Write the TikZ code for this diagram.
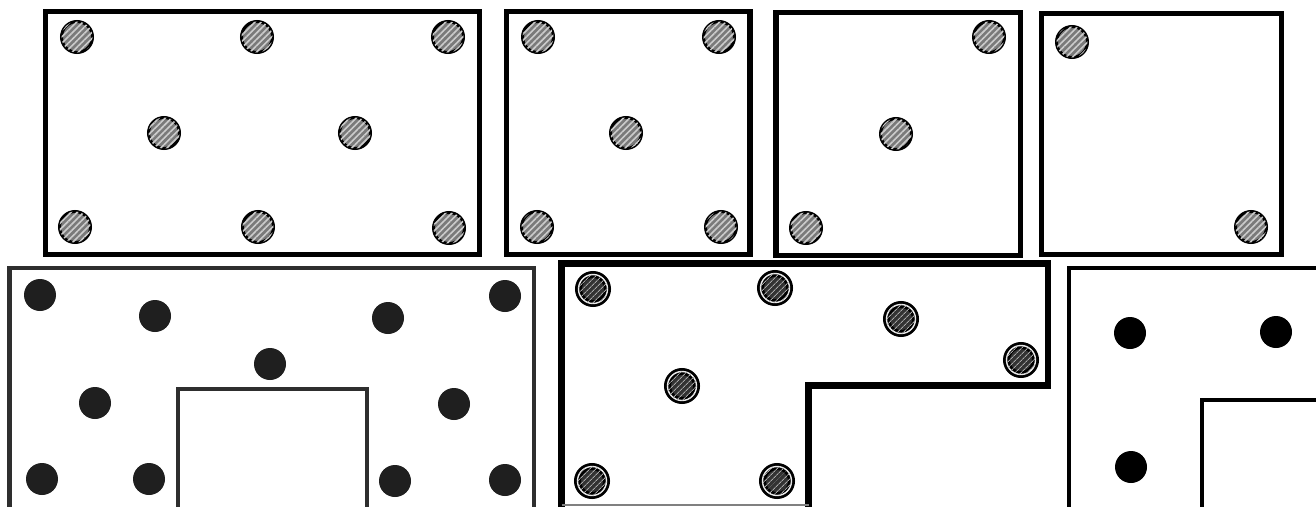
\documentclass[tikz,border=0pt]{standalone}
\usetikzlibrary{patterns.meta}
\tikzset{
  frame/.style={draw=black, line width=5.5pt},
  hdot/.style={circle, draw=black, line width=3pt, fill=black!52, minimum size=31pt, inner sep=0pt,
    postaction={pattern={Lines[angle=45,distance=4.5pt,line width=1.6pt]}, pattern color=gray!40}},
  rdot/.style={circle, draw=black, line width=2.8pt, double=white!85!gray, double distance=1.4pt,
    fill=black!80, minimum size=29pt, inner sep=0pt,
    postaction={pattern={Lines[angle=45,distance=4pt,line width=1pt]}, pattern color=gray!70}},
  ddot/.style={circle, fill=black!88, minimum size=32pt, inner sep=0pt},
  bdot/.style={circle, fill=black, minimum size=32pt, inner sep=0pt},
  wall/.style={draw=black!82, line width=4.2pt},
  lwall/.style={draw=black, line width=6.5pt, line join=miter},
  pwall/.style={draw=black, line width=4.5pt, line join=miter}
}
\begin{document}
\begin{tikzpicture}[x=1pt,y=-1pt]
\useasboundingbox (0,0) rectangle (1316,506);
\clip (0,0) rectangle (1316,506);
% top row frames
\draw[frame] (45.5,11.5) rectangle (479.5,254.5);
\draw[frame] (506.5,11.5) rectangle (750,254.5);
\draw[frame] (776,12.5) rectangle (1020.5,255.5);
\draw[frame] (1041.5,13.5) rectangle (1281.5,254.5);
% panel 1
\node[hdot] (a1) at (77,37) {};
\node[hdot] (a2) at (257,37) {};
\node[hdot] (a3) at (448,37) {};
\node[hdot] (a4) at (164,133) {};
\node[hdot] (a5) at (355,133) {};
\node[hdot] (a6) at (75,227) {};
\node[hdot] (a7) at (258,227) {};
\node[hdot] (a8) at (449,228) {};
% panel 2
\node[hdot] (b1) at (538,37) {};
\node[hdot] (b2) at (719,37) {};
\node[hdot] (b3) at (626,133) {};
\node[hdot] (b4) at (537,227) {};
\node[hdot] (b5) at (721,227) {};
% panel 3
\node[hdot] (c1) at (989,37) {};
\node[hdot] (c2) at (896,134) {};
\node[hdot] (c3) at (806,228) {};
% panel 4
\node[hdot] (d1) at (1072,42) {};
\node[hdot] (d2) at (1251,227) {};
% panel 5
\draw[wall] (9.5,520) -- (9.5,268) -- (534,268) -- (534,520);
\draw[wall] (178,520) -- (178,389) -- (367,389) -- (367,520);
\node[ddot] (e1) at (40,295) {};
\node[ddot] (e2) at (155,316) {};
\node[ddot] (e3) at (270,364) {};
\node[ddot] (e4) at (388,318) {};
\node[ddot] (e5) at (505,296) {};
\node[ddot] (e6) at (95,403) {};
\node[ddot] (e7) at (454,404) {};
\node[ddot] (e8) at (42,479) {};
\node[ddot] (e9) at (149,479) {};
\node[ddot] (e10) at (395,481) {};
\node[ddot] (e11) at (505,480) {};
% panel 6
\draw[lwall] (561.5,520) -- (561.5,263.5) -- (1048,263.5) -- (1048,385.5) -- (808.5,385.5) -- (808.5,520);
\draw[draw=black!50, line width=1.5pt] (561.5,505) -- (808.5,505);
\node[rdot] (f1) at (593,289) {};
\node[rdot] (f2) at (775,288) {};
\node[rdot] (f3) at (901,319) {};
\node[rdot] (f4) at (1021,360) {};
\node[rdot] (f5) at (682,386) {};
\node[rdot] (f6) at (592,481) {};
\node[rdot] (f7) at (777,481) {};
% panel 7
\draw[pwall] (1069,520) -- (1069,268) -- (1330,268);
\draw[pwall] (1202,520) -- (1202,400) -- (1330,400);
\node[bdot] (g1) at (1130,333) {};
\node[bdot] (g2) at (1276,332) {};
\node[bdot] (g3) at (1131,467) {};
\end{tikzpicture}
\end{document}
